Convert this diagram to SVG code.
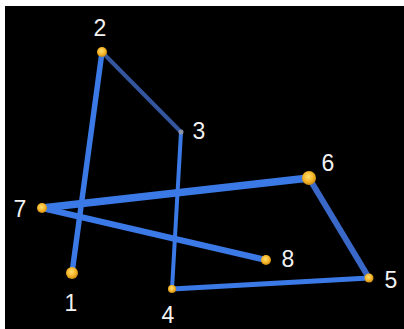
<svg xmlns="http://www.w3.org/2000/svg" width="404" height="329" viewBox="0 0 404 329">
<defs>
<radialGradient id="dot" cx="0.45" cy="0.4" r="0.6">
<stop offset="0" stop-color="#ffe070"/>
<stop offset="0.6" stop-color="#f7b52a"/>
<stop offset="1" stop-color="#c98a10"/>
</radialGradient>
</defs>
<style>
.e{stroke:#3b7ae6;stroke-linecap:round;fill:none}
.n{fill:url(#dot)}
.t{fill:#f2f2f2;font-family:"Liberation Sans",Arial,sans-serif;font-size:23px;text-anchor:middle;dominant-baseline:central}
</style>
<rect x="0" y="0" width="404" height="329" fill="#ffffff"/>
<rect x="5" y="6" width="399" height="323" fill="#000000"/>
<g id="connectors">
<line class="e" x1="72" y1="273" x2="102" y2="52" stroke-width="5.5"/>
<line class="e" x1="102" y1="52" x2="181" y2="132" stroke-width="4" style="stroke:#34569f"/>
<line class="e" x1="181" y1="132" x2="172" y2="289" stroke-width="4"/>
<line class="e" x1="172" y1="289" x2="369" y2="278" stroke-width="5"/>
<line class="e" x1="369" y1="278" x2="309" y2="178" stroke-width="6" style="stroke:#3a68c8"/>
<line class="e" x1="309" y1="178" x2="42" y2="208" stroke-width="7.5"/>
<line class="e" x1="42" y1="208" x2="266" y2="260" stroke-width="6"/>
</g>
<g id="n1"><circle class="n" cx="72" cy="273" r="6"/><text class="t" x="71" y="303">1</text></g>
<g id="n2"><circle class="n" cx="102" cy="52" r="5"/><text class="t" x="100" y="28">2</text></g>
<g id="n3"><circle cx="181" cy="132" r="2.5" fill="#8a93a8"/><text class="t" x="199" y="131">3</text></g>
<g id="n4"><circle class="n" cx="172" cy="289" r="4"/><text class="t" x="168" y="315">4</text></g>
<g id="n5"><circle class="n" cx="369" cy="278" r="4.5"/><text class="t" x="391" y="280">5</text></g>
<g id="n6"><circle class="n" cx="309" cy="178" r="7"/><text class="t" x="328" y="163">6</text></g>
<g id="n7"><circle class="n" cx="42" cy="208" r="5"/><text class="t" x="20" y="209">7</text></g>
<g id="n8"><circle class="n" cx="266" cy="260" r="5"/><text class="t" x="288" y="259">8</text></g>
</svg>
